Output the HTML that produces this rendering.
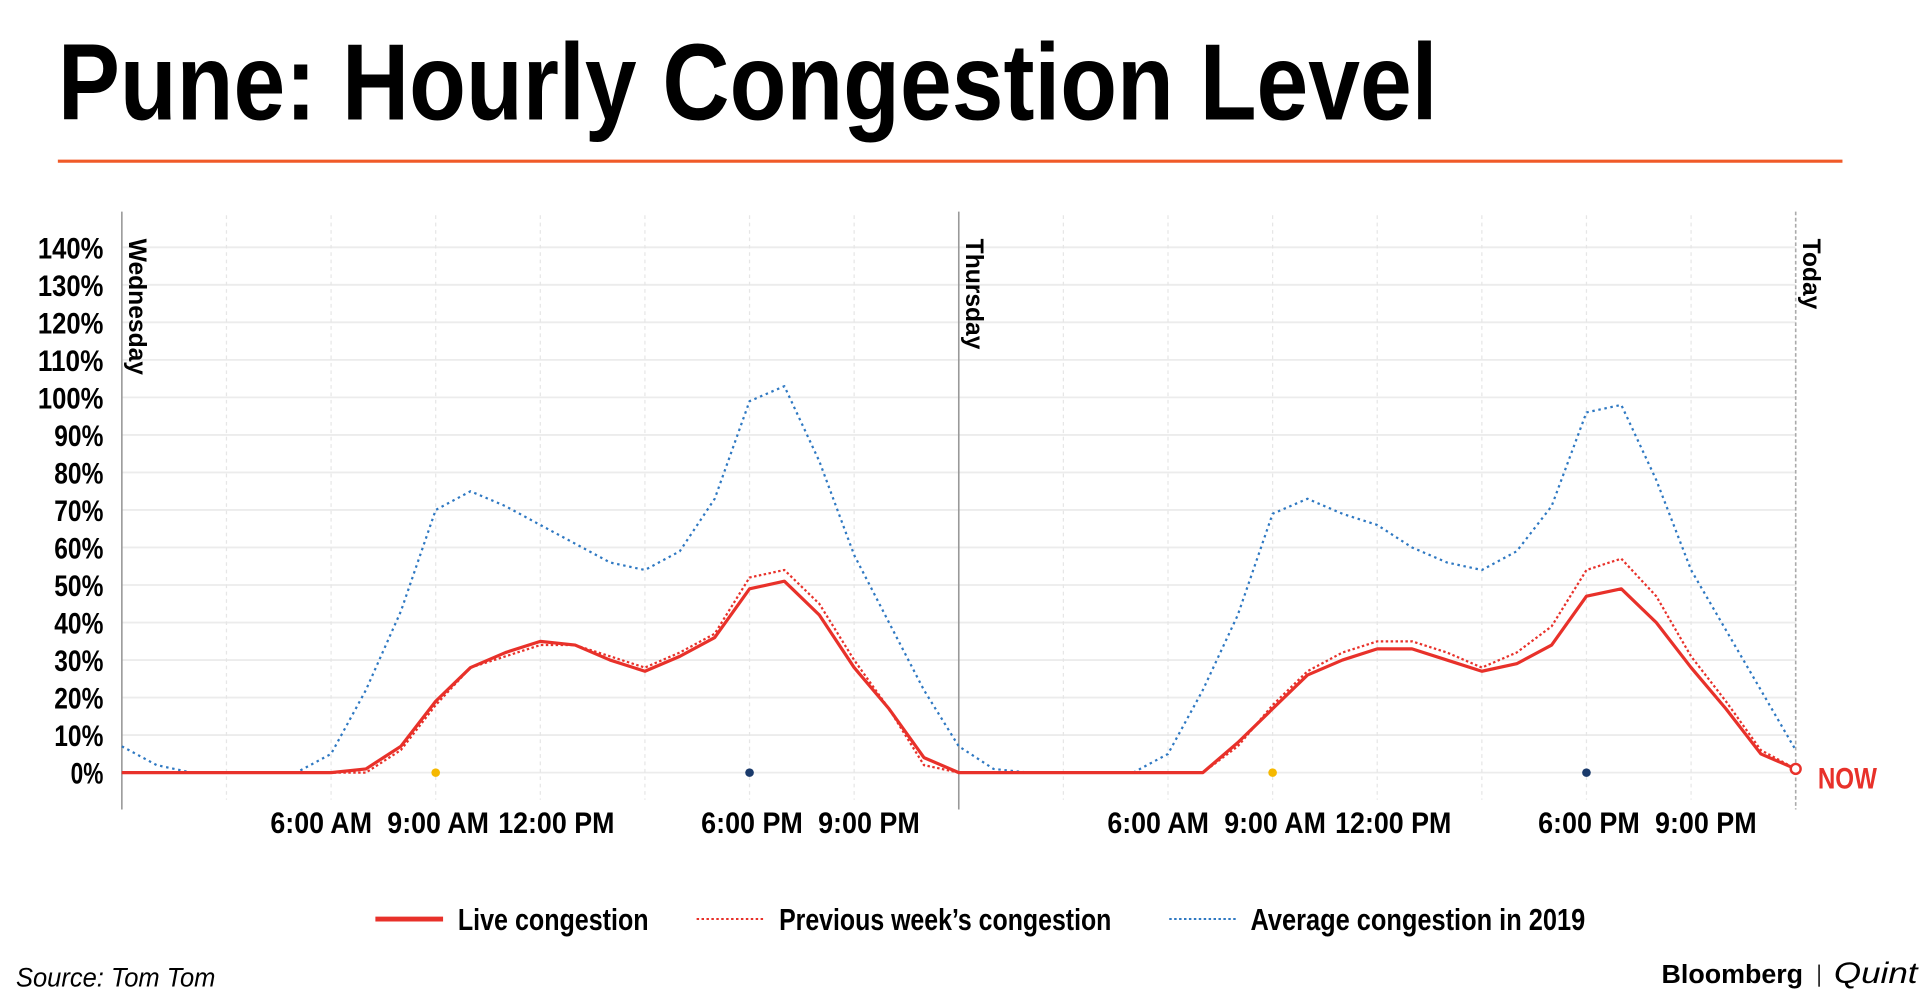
<!DOCTYPE html>
<html><head><meta charset="utf-8"><style>
html,body{margin:0;padding:0;background:#fff;}
svg{display:block;}
text{font-family:"Liberation Sans",sans-serif;}
</style></head><body>
<svg id="chart" width="1920" height="999" viewBox="0 0 1560 812" preserveAspectRatio="none" xmlns="http://www.w3.org/2000/svg">
<text x="47" y="97" font-size="88" font-weight="bold" textLength="1121" lengthAdjust="spacingAndGlyphs" fill="#000">Pune: Hourly Congestion Level</text>
<line x1="47" y1="131" x2="1497" y2="131" stroke="#f05a28" stroke-width="2.5"/>
<g id="grid"></g>
<g id="marks"></g>
<g id="labels"></g>
<g>
<line x1="305" y1="747" x2="360" y2="747" stroke="#e8312a" stroke-width="4"/>
<text x="372" y="756" font-size="25" font-weight="bold" textLength="155" lengthAdjust="spacingAndGlyphs">Live congestion</text>
<line x1="566" y1="747" x2="622" y2="747" stroke="#e8312a" stroke-width="1.6" stroke-dasharray="2,2"/>
<text x="633" y="756" font-size="25" font-weight="bold" textLength="270" lengthAdjust="spacingAndGlyphs">Previous week’s congestion</text>
<line x1="950" y1="747" x2="1006" y2="747" stroke="#2e78c2" stroke-width="1.6" stroke-dasharray="2,2"/>
<text x="1016" y="756" font-size="25" font-weight="bold" textLength="272" lengthAdjust="spacingAndGlyphs">Average congestion in 2019</text>
</g>
<text x="13" y="802" font-size="22" font-style="italic" textLength="162" lengthAdjust="spacingAndGlyphs">Source: Tom Tom</text>
<text x="1350" y="799" font-size="21" font-weight="bold" textLength="115" lengthAdjust="spacingAndGlyphs">Bloomberg</text>
<line x1="1478" y1="784" x2="1478" y2="802" stroke="#000" stroke-width="1.2"/>
<text x="1490" y="799" font-size="24" font-style="italic" font-family="Liberation Serif, serif" textLength="68" lengthAdjust="spacingAndGlyphs">Quint</text>
</svg>
<script>
const yTicks = [0,10,20,30,40,50,60,70,80,90,100,110,120,130,140];
const dayNames = ["Wednesday","Thursday","Today"];
const xTickLabels = ["6:00 AM","9:00 AM","12:00 PM","6:00 PM","9:00 PM"];
const xTickHours = [6,9,12,18,21];
const liveWed = [0,0,0,0,0,0,0,1,7,19,28,32,35,34,30,27,31,36,49,51,42,28,17,4];
const liveThu = [0,0,0,0,0,0,0,0,8,17,26,30,33,33,30,27,29,34,47,49,40,28,17,5,1];
const prevWed = [0,0,0,0,0,0,0,0,6,18,28,31,34,34,31,28,32,37,52,54,45,30,17,2];
const prevThu = [0,0,0,0,0,0,0,0,7,18,27,32,35,35,32,28,32,39,54,57,47,31,19,6,1];
const avgWed = [7,2,0,0,0,0,5,22,43,70,75,71,66,61,56,54,59,73,99,103,83,58,40,22];
const avgThu = [7,1,0,0,0,0,5,22,42,69,73,69,66,60,56,54,59,71,96,98,78,54,38,22,6];

const NS="http://www.w3.org/2000/svg";
const X0=99, DAYW=680, Y0=628, PER10=30.5;
const xs = h => X0 + h*DAYW/24;
const ys = v => Y0 - v*PER10/10;
const labelShift = {6:-8, 9:2, 12:13, 18:2, 21:12};
function mk(tag, attrs, parent){const e=document.createElementNS(NS,tag);for(const k in attrs)e.setAttribute(k,attrs[k]);parent.appendChild(e);return e;}
const grid=document.getElementById('grid'), marks=document.getElementById('marks'), labels=document.getElementById('labels');

yTicks.forEach(v=>{
  const l=mk('line',{x1:X0,x2:xs(48),y1:ys(v),y2:ys(v),stroke:'#ececec','stroke-width':1.5},grid);
  
  
  const s=v+'%';
  const t=mk('text',{x:84,y:ys(v)+9,'font-size':24,'font-weight':'bold','text-anchor':'end',textLength:s.length*13.3,lengthAdjust:'spacingAndGlyphs'},labels);
  t.textContent=s;
  
  
});
for(let d=0;d<2;d++){
  for(let h=3;h<24;h+=3){
    const l=mk('line',{x1:xs(d*24+h),x2:xs(d*24+h),y1:175,y2:650,stroke:'#e6e6e6','stroke-width':1,'stroke-dasharray':'3,3'},grid);
    
    
  }
  xTickHours.forEach((h,i)=>{
    const s=xTickLabels[i];
    const t=mk('text',{x:xs(d*24+h)+labelShift[h],y:677,'font-size':24,'font-weight':'bold','text-anchor':'middle',textLength:s.length*11.8,lengthAdjust:'spacingAndGlyphs'},labels);
    t.textContent=s;
    
    
  });
}
dayNames.forEach((n,d)=>{
  const x=xs(d*24);
  const l=mk('line',{x1:x,x2:x,y1:172,y2:658,stroke:d===2?'#aaa':'#999','stroke-width':1.3,'stroke-dasharray':d===2?'3,2':'none'},grid);
  
  
  const t=mk('text',{x:0,y:0,'font-size':20,'font-weight':'bold',transform:`translate(${x+6},194) rotate(90)`},labels);
  t.textContent=n;
  
  
});
function series(a,b,attrs,name){
  const vals=a.concat(b);
  const pts=vals.map((v,i)=>xs(i).toFixed(1)+','+ys(v).toFixed(1)).join(' ');
  const p=mk('polyline',Object.assign({points:pts,fill:'none','stroke-linejoin':'round'},attrs),marks);
  
  
}
series(avgWed,avgThu,{stroke:'#2e78c2','stroke-width':1.8,'stroke-dasharray':'2,3'},'avg-2019-line');
series(prevWed,prevThu,{stroke:'#e8312a','stroke-width':1.8,'stroke-dasharray':'2,2'},'prev-week-line');
series(liveWed,liveThu,{stroke:'#e8312a','stroke-width':2.6},'live-line');
[[9,'#f5b800'],[18,'#1a3a6b'],[33,'#f5b800'],[42,'#1a3a6b']].forEach(([h,c])=>{
  const e=mk('circle',{cx:xs(h),cy:ys(0),r:3.5,fill:c},marks);
  
  
});
const lastV=liveThu[liveThu.length-1];
const now=mk('circle',{cx:xs(48),cy:ys(lastV),r:4,fill:'#fff',stroke:'#e8312a','stroke-width':2},marks);


const nt=mk('text',{x:1477,y:641,'font-size':24,'font-weight':'bold',fill:'#e8312a',textLength:48,lengthAdjust:'spacingAndGlyphs'},labels);
nt.textContent='NOW';


</script>
</body></html>
